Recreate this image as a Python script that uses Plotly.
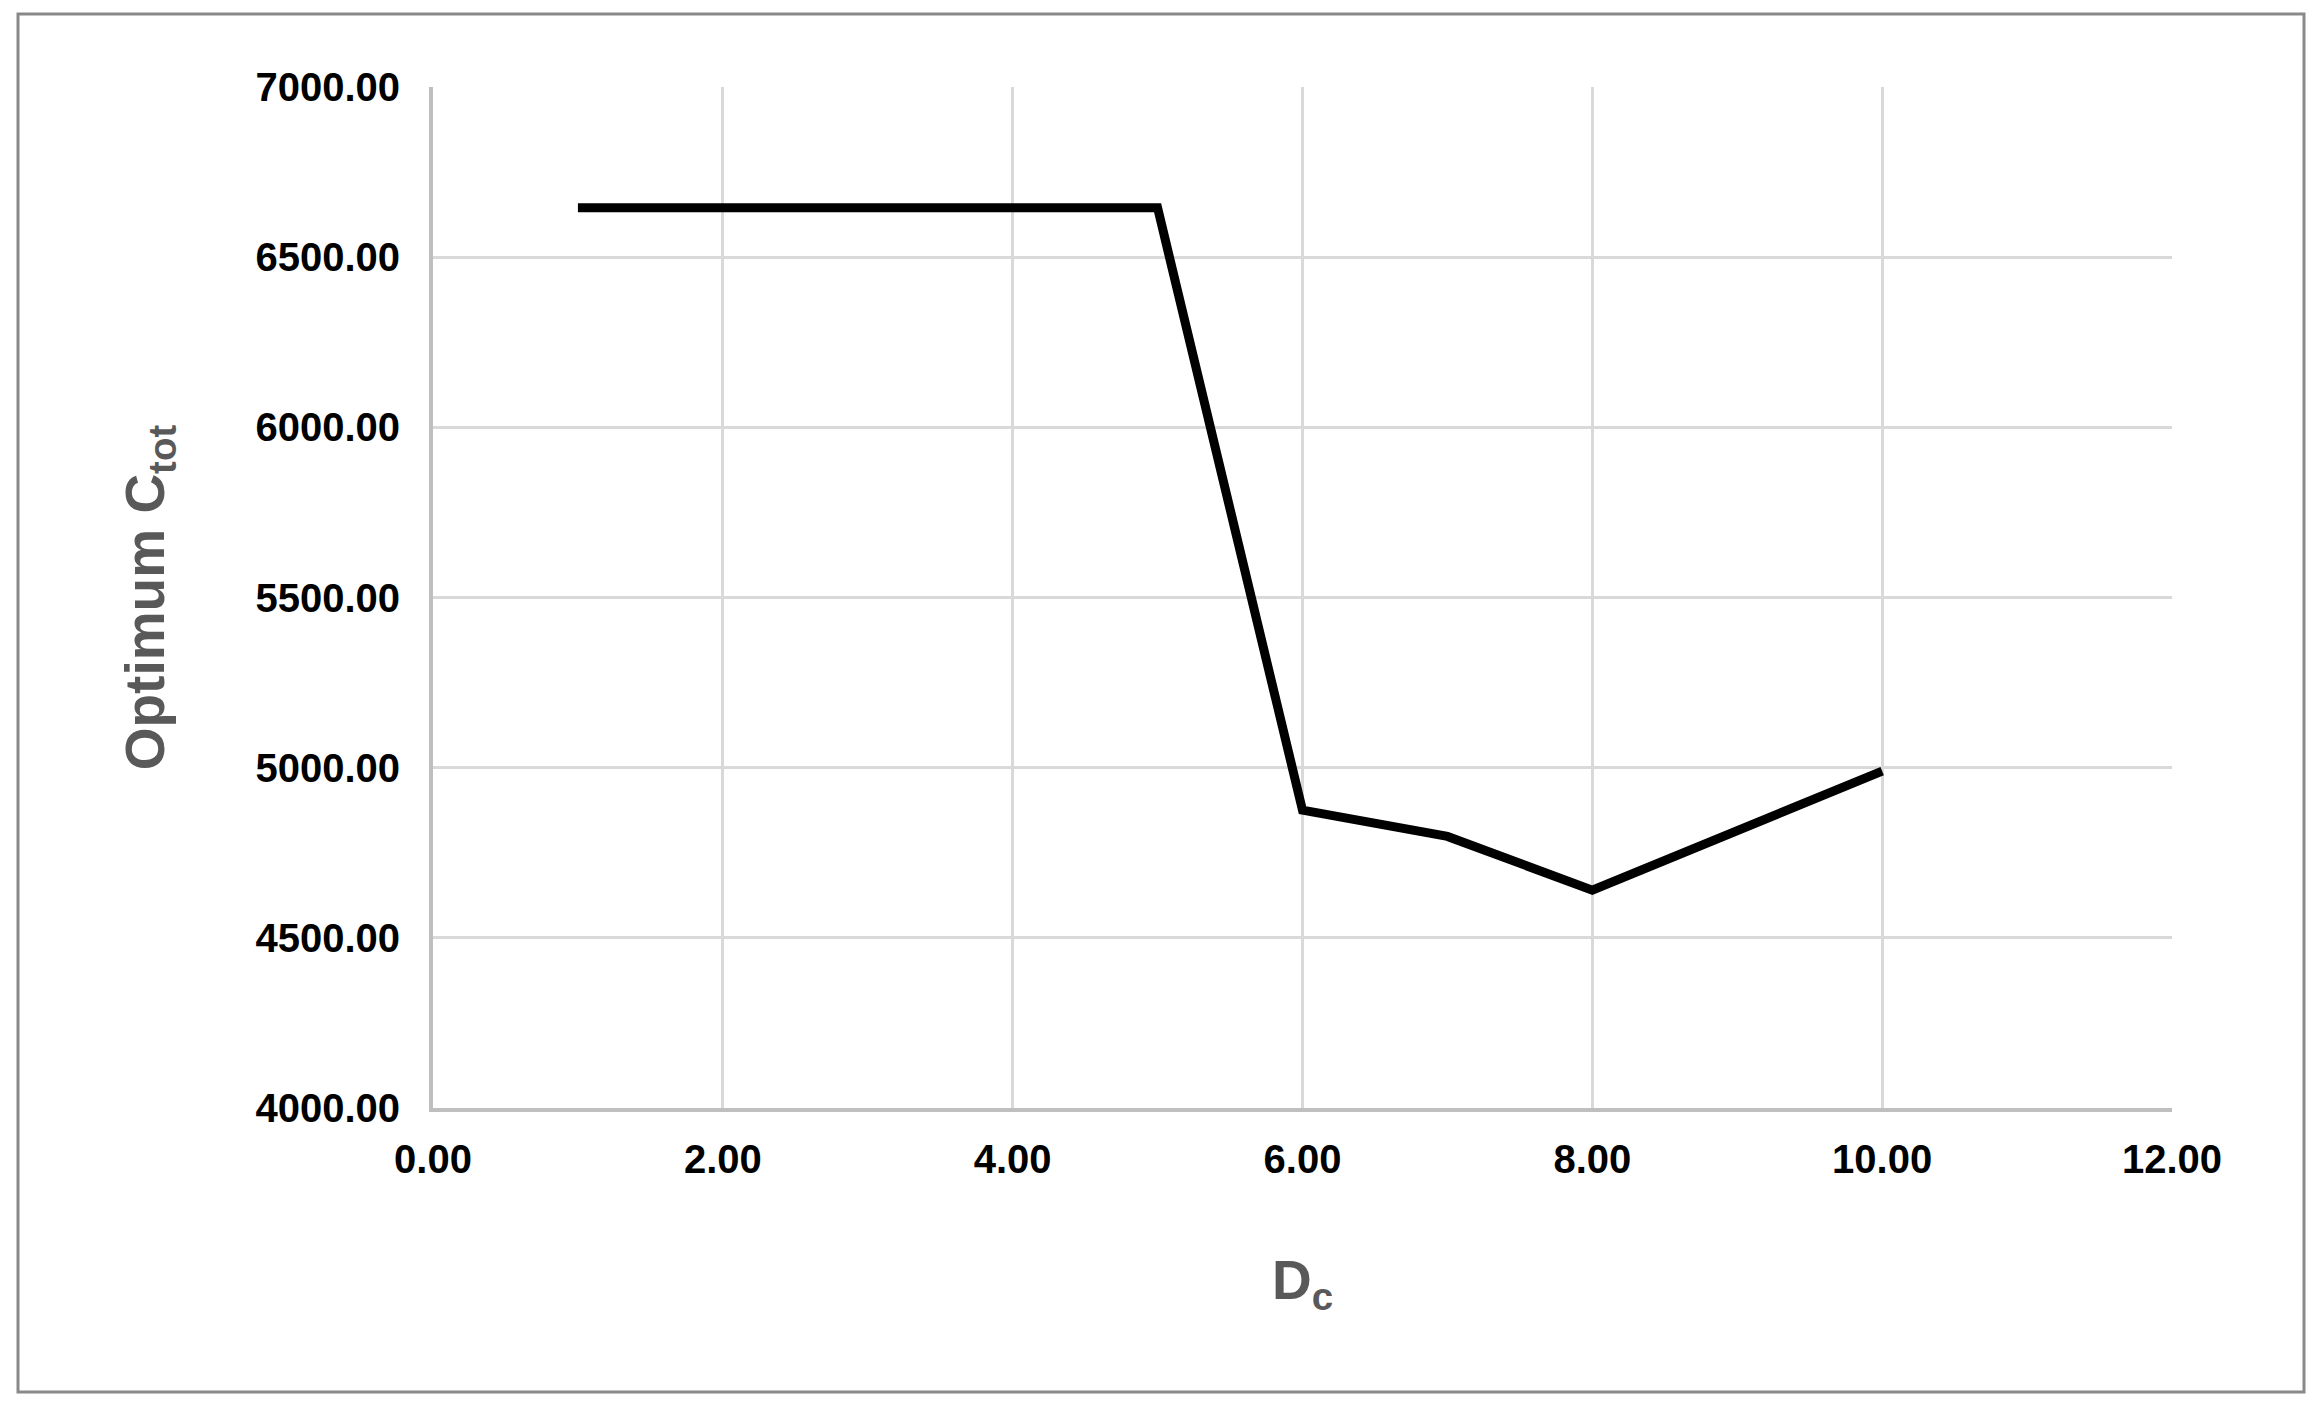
import plotly.graph_objects as go

# D_c 对 Optimum C_tot 的数据
dc_values = [1, 2, 3, 4, 5, 6, 7, 8, 9, 10]
ctot_values = [6645, 6645, 6645, 6645, 6645, 4875, 4798, 4640, 4815, 4990]

x_range = [0, 12]
y_range = [4000, 7000]

FONT = "Liberation Sans, Arial, sans-serif"
# 页面 body 自带 8px 边距，尺寸和边距相应减掉
W, H = 2315, 1403
M_L, M_R, M_T, M_B = 425, 151, 79, 303

fig = go.Figure()

fig.add_trace(go.Scatter(
    x=dc_values,
    y=ctot_values,
    mode="lines",
    line=dict(color="black", width=9),
    showlegend=False,
))

# 外框（Excel 图表区边框）
pw, ph = W - M_L - M_R, H - M_T - M_B
fig.add_shape(
    type="rect", xref="paper", yref="paper",
    x0=(10 - M_L) / pw, x1=(2296 - M_L) / pw,
    y0=(H - M_B - 1384) / ph, y1=(H - M_B - 6) / ph,
    line=dict(color="#898989", width=3),
    layer="below",
)

fig.update_layout(
    width=W,
    height=H,
    margin=dict(l=M_L, r=M_R, t=M_T, b=M_B),
    paper_bgcolor="white",
    plot_bgcolor="white",
    font=dict(family=FONT, color="black"),
    xaxis=dict(
        range=x_range,
        dtick=2,
        tick0=0,
        tickformat=".2f",
        tickfont=dict(size=40, weight="bold", color="black"),
        ticklabelstandoff=13,
        showgrid=True,
        gridcolor="#d9d9d9",
        gridwidth=3,
        showline=True,
        linecolor="#bfbfbf",
        linewidth=4,
        zeroline=False,
        ticks="",
        title=dict(
            text="D<sub>c</sub>",
            font=dict(size=55, weight="bold", color="#595959"),
            standoff=81,
        ),
    ),
    yaxis=dict(
        range=y_range,
        dtick=500,
        tick0=4000,
        tickformat=".2f",
        tickfont=dict(size=40, weight="bold", color="black"),
        ticklabelstandoff=21,
        showgrid=True,
        gridcolor="#d9d9d9",
        gridwidth=3,
        showline=True,
        linecolor="#bfbfbf",
        linewidth=4,
        zeroline=False,
        ticks="",
        title=dict(
            text="Optimum C<sub>tot</sub>",
            font=dict(size=55, weight="bold", color="#595959"),
            standoff=74,
        ),
    ),
)

fig.write_html("out.html")
